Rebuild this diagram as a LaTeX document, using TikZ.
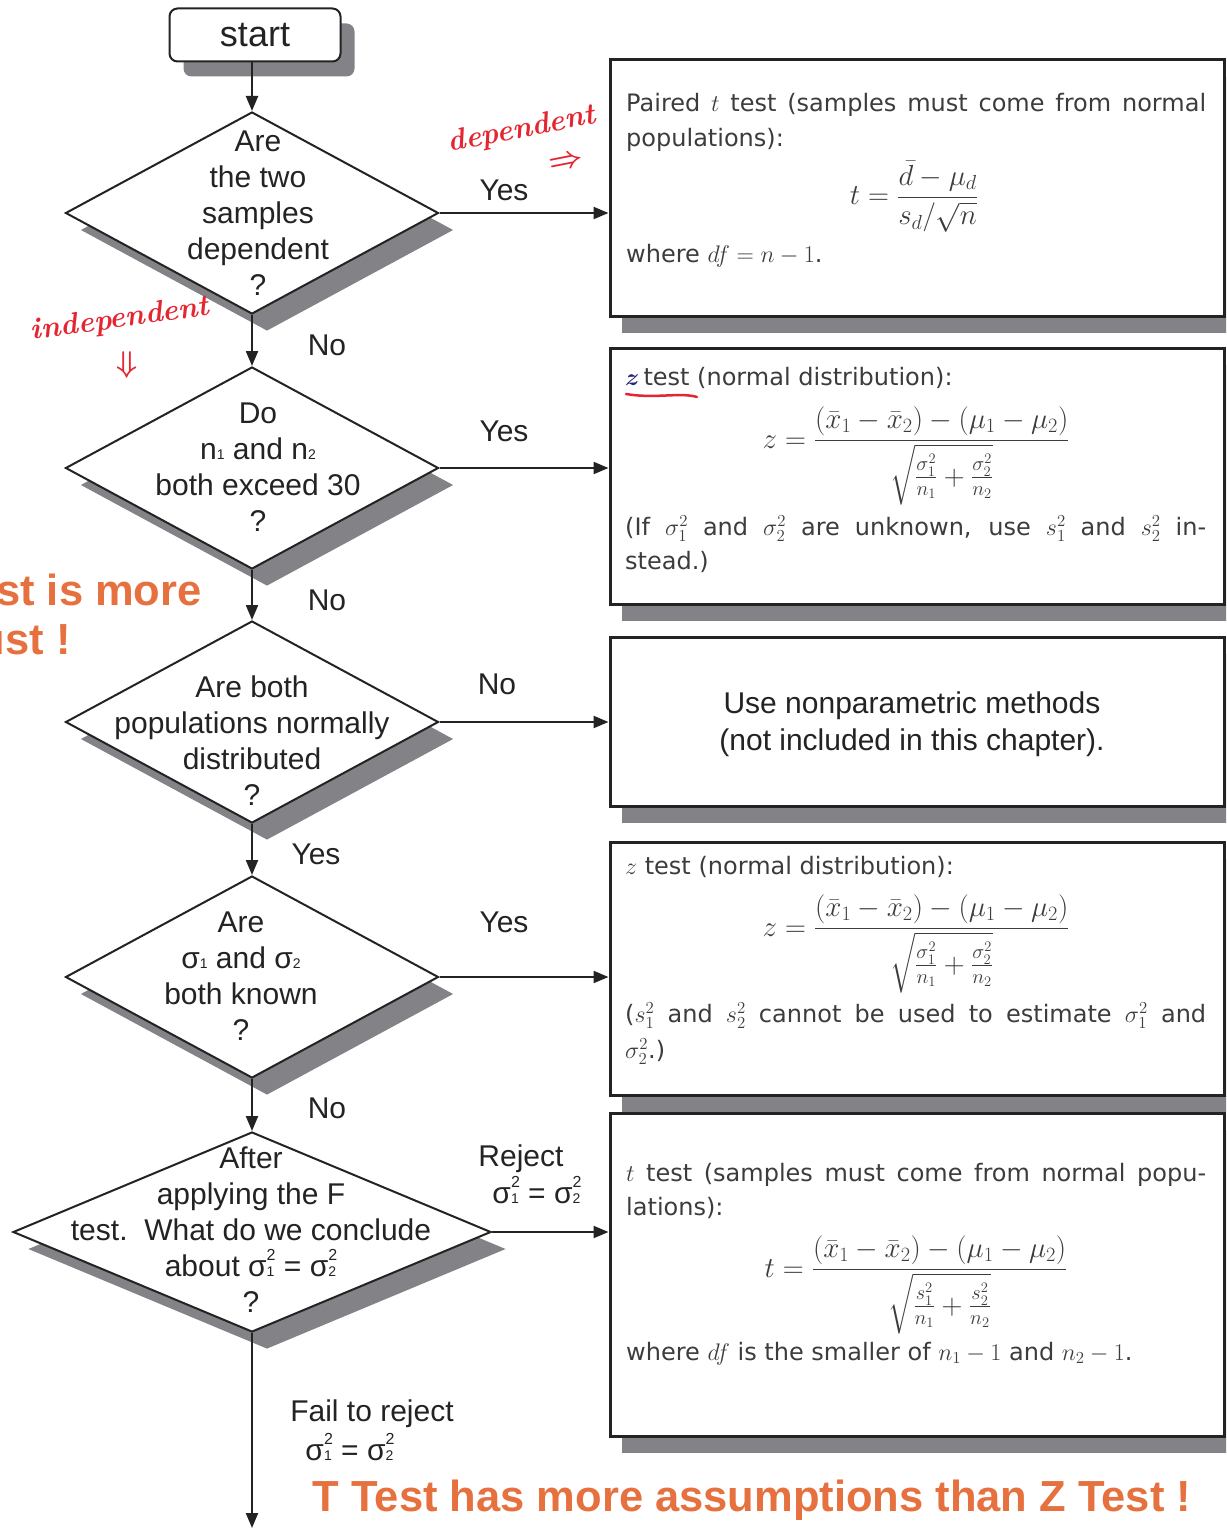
\RequirePackage{fix-cm}
\documentclass[tikz,border=0pt]{standalone}
\usepackage{amsmath}
\usepackage{fontspec}
\newfontfamily\arialf{Liberation Sans}
\newfontfamily\boxf{DejaVu Sans}
\usetikzlibrary{shapes.geometric,arrows.meta,shadows}
\definecolor{shd}{RGB}{130,130,135}
\definecolor{ink}{RGB}{35,35,35}
\definecolor{boxtxt}{RGB}{60,60,60}
\definecolor{orng}{RGB}{230,112,62}
\definecolor{hand}{RGB}{228,38,50}
\definecolor{zblue}{RGB}{40,40,110}
\newcommand{\sbs}[1]{{\fontsize{14}{14}\selectfont #1}}
\newcommand{\sgsq}[1]{σ\rlap{\sbs{#1}}\raisebox{1.05ex}{\fontsize{16}{16}\selectfont 2}}
\begin{document}
\begin{tikzpicture}[x=1pt,y=-1pt,
  dia/.style={draw=ink, line width=2pt, fill=white, shape=diamond, inner sep=0pt,
    minimum width=373pt, minimum height=202pt,
    general shadow={fill=shd, draw=none, shadow xshift=15pt, shadow yshift=-17pt}},
  outbox/.style={draw=ink, line width=3pt, fill=white, rectangle, inner sep=0pt,
    minimum width=614pt,
    general shadow={fill=shd, draw=none, shadow xshift=12pt, shadow yshift=-17pt}},
  startbox/.style={draw=ink, line width=2pt, fill=white, rectangle, rounded corners=8pt,
    minimum width=171pt, minimum height=53pt, inner sep=0pt,
    font=\arialf\fontsize{36}{36}\selectfont, text=ink,
    general shadow={fill=shd, draw=none, shadow xshift=14pt, shadow yshift=-15pt}},
  dtext/.style={font=\arialf\fontsize{30}{36}\selectfont, text=ink, align=center, inner sep=0pt},
  lbl/.style={font=\arialf\fontsize{30}{34}\selectfont, text=ink, inner sep=0pt},
  btxt/.style={font=\boxf\fontsize{24}{35}\selectfont, text=boxtxt, inner sep=0pt, anchor=base west},
  frm/.style={font=\fontsize{29}{35}\selectfont, text=boxtxt, inner sep=0pt, anchor=base},
  bigtxt/.style={font=\arialf\fontsize{30}{37}\selectfont, text=ink, align=center, inner sep=0pt},
  orange/.style={font=\arialf\bfseries\fontsize{43.5}{43.5}\selectfont, text=orng, inner sep=0pt},
  handw/.style={font=\rmfamily\bfseries\itshape\fontsize{30}{30}\selectfont, text=hand, inner sep=0pt},
  arr/.style={draw=ink, line width=2.2pt, -{Triangle[length=15pt,width=12pt]}}
]
\useasboundingbox (0,0) rectangle (1226,1530);
\clip (0,0) rectangle (1226,1530);

% start
\node[startbox] (start) at (255,35) {start};

% diamonds
\node[dia] (d1) at (252,213) {};
\node[dia] (d2) at (252,468) {};
\node[dia] (d3) at (252,722) {};
\node[dia] (d4) at (252,977) {};
\node[dia, minimum width=478pt, minimum height=200pt] (d5) at (252,1232) {};

\node[dtext] (t1) at (258,213) {Are\\the two\\samples\\dependent\\?};
\node[dtext] (t2) at (258,467) {Do\\n\sbs{1} and n\sbs{2}\\both exceed 30\\?};
\node[dtext] (t3) at (252,741) {Are both\\populations normally\\distributed\\?};
\node[dtext] (t4) at (241,976) {Are\\σ\sbs{1} and σ\sbs{2}\\both known\\?};
\node[dtext] (t5) at (251,1230) {After\\applying the F\\test.\ \ What do we conclude\\about \sgsq{1} = \sgsq{2}\\?};

% boxes
\node[outbox, minimum height=256pt] (b1) at (917,188) {};
\node[outbox, minimum height=256pt] (b2) at (917,476) {};
\node[outbox, minimum height=169pt] (b3) at (917,721.5) {};
\node[outbox, minimum height=253pt] (b4) at (917,968.5) {};
\node[outbox, minimum height=323pt] (b5) at (917,1274.5) {};

% box 1
\node[btxt] (b1l1) at (626,112) {\makebox[580pt][s]{Paired $t$ test (samples must come from normal}};
\node[btxt] (b1l2) at (626,147) {populations):};
\node[frm] (b1f) at (914,205) {$\displaystyle t=\frac{\bar{d}-\mu_d}{s_d/\sqrt{n}}$};
\node[btxt] (b1l3) at (626,262) {where $df=n-1$.};

% box 2
\node[btxt] (b2l1) at (625,385) {{\color{zblue}$\boldsymbol{z}$}\,test (normal distribution):};
\node[frm] (b2f) at (916,448) {$\displaystyle z=\frac{(\bar{x}_1-\bar{x}_2)-(\mu_1-\mu_2)}{\sqrt{\frac{\sigma_1^2}{n_1}+\frac{\sigma_2^2}{n_2}}}$};
\node[btxt] (b2l2) at (625,535) {\makebox[581pt][s]{(If $\sigma_1^2$ and $\sigma_2^2$ are unknown, use $s_1^2$ and $s_2^2$ in-}};
\node[btxt] (b2l3) at (625,569) {stead.)};
\draw[hand, line width=2.5pt, line cap=round] (626,394) .. controls (655,399) and (680,392) .. (697,397);

% box 3
\node[bigtxt] (b3t) at (912,724) {Use nonparametric methods\\(not included in this chapter).};

% box 4
\node[btxt] (b4l1) at (625,874) {$z$ test (normal distribution):};
\node[frm] (b4f) at (916,936) {$\displaystyle z=\frac{(\bar{x}_1-\bar{x}_2)-(\mu_1-\mu_2)}{\sqrt{\frac{\sigma_1^2}{n_1}+\frac{\sigma_2^2}{n_2}}}$};
\node[btxt] (b4l2) at (625,1022) {\makebox[581pt][s]{($s_1^2$ and $s_2^2$ cannot be used to estimate $\sigma_1^2$ and}};
\node[btxt] (b4l3) at (625,1058) {$\sigma_2^2$.)};

% box 5
\node[btxt] (b5l1) at (626,1181) {\makebox[580pt][s]{$t$ test (samples must come from normal popu-}};
\node[btxt] (b5l2) at (626,1215) {lations):};
\node[frm] (b5f) at (916,1277) {$\displaystyle t=\frac{(\bar{x}_1-\bar{x}_2)-(\mu_1-\mu_2)}{\sqrt{\frac{s_1^2}{n_1}+\frac{s_2^2}{n_2}}}$};
\node[btxt] (b5l3) at (626,1360) {where $df$ is the smaller of $n_1-1$ and $n_2-1$.};

% connectors
\coordinate (endpt) at (252,1528);
\draw[arr] (d1.north |- start.south) -- (d1.north);
\draw[arr] (d1.south) -- (d2.north);
\draw[arr] (d2.south) -- (d3.north);
\draw[arr] (d3.south) -- (d4.north);
\draw[arr] (d4.south) -- (d5.north);
\draw[arr] (d5.south) -- (endpt);
\draw[arr] (d1.east) -- (d1.east -| b1.west);
\draw[arr] (d2.east) -- (d2.east -| b2.west);
\draw[arr] (d3.east) -- (d3.east -| b3.west);
\draw[arr] (d4.east) -- (d4.east -| b4.west);
\draw[arr] (d5.east) -- (d5.east -| b5.west);

% labels
\node[lbl] (l1) at (504,190) {Yes};
\node[lbl] (l2) at (327,345) {No};
\node[lbl] (l3) at (504,431) {Yes};
\node[lbl] (l4) at (327,600) {No};
\node[lbl] (l5) at (497,684) {No};
\node[lbl] (l6) at (316,854) {Yes};
\node[lbl] (l7) at (504,922) {Yes};
\node[lbl] (l8) at (327,1108) {No};
\node[lbl] (l9) at (521,1159) {Reject};
\node[lbl] (l10) at (537,1190) {\sgsq{1} = \sgsq{2}};
\node[lbl] (l11) at (372,1414) {Fail to reject};
\node[lbl] (l12) at (350,1447) {\sgsq{1} = \sgsq{2}};

% handwritten notes
\node[handw, rotate=11] (h1) at (522,130) {dependent};
\node[handw, rotate=11] (h2) at (566,162) {$\boldsymbol{\Rightarrow}$};
\node[handw, rotate=8] (h3) at (120,320) {independent};
\node[handw] (h4) at (127,365) {$\boldsymbol{\Downarrow}$};

% orange notes
\node[orange, anchor=west] (o1) at (-4,590) {st is more};
\node[orange, anchor=east] (o2) at (71,640) {ust !};
\node[orange] (o3) at (752,1500) {T Test has more assumptions than Z Test !};
\end{tikzpicture}
\end{document}
